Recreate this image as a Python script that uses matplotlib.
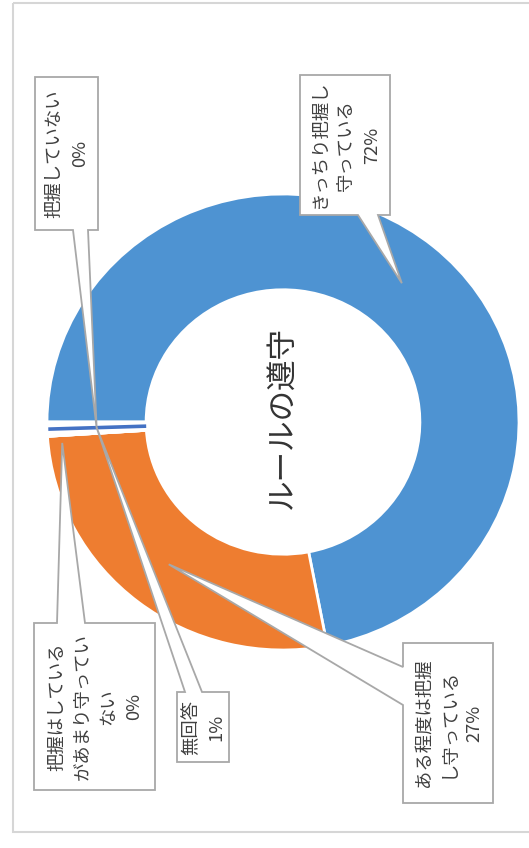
import numpy as np
import matplotlib
matplotlib.use("Agg")
import matplotlib.pyplot as plt
from matplotlib.patches import Polygon, Rectangle

plt.rcParams["font.family"] = ["Noto Sans CJK JP", "DejaVu Sans"]

# ---- data ----
title = "ルールの遵守"
categories = ["きっちり把握し守っている", "ある程度は把握し守っている",
              "把握はしているがあまり守っていない", "把握していない", "無回答"]
values = [72, 27, 0, 0, 1]
label_lines = ["きっちり把握し\n守っている", "ある程度は把握\nし守っている",
               "把握はしている\nがあまり守ってい\nない", "把握していない", "無回答"]
colors = ["#4E93D2", "#EE7D30", "#A5A5A5", "#FFC000", "#FFFFFF"]
no_answer_color = "#4472C4"

# ---- layout (pixels of the 529x848 canvas) ----
W, H = 529, 848
cx, cy, rx, ry = 283, 422, 236, 228
ring_width = 0.42

# callout boxes: (x0, y0, x1, y1), pointer side and base span
boxes = [(300, 75, 390, 215), (403, 643, 493, 803), (34, 623, 155, 790),
         (35, 77, 98, 230), (177, 692, 229, 762)]
pointers = [("bottom", 358, 378), ("left", 667, 705), ("top", 57, 85),
            ("bottom", 73, 88), ("top", 185, 202)]
tip_radius = [0.79, 0.79, 0.94, 0.79, 0.79]
tip_nudge = [0.0, 0.0, 2.0, -1.5, 0.0]

fig = plt.figure(figsize=(W / 100, H / 100), dpi=100)
fig.patch.set_facecolor("white")

ax = fig.add_axes([(cx - rx) / W, 1 - (cy + ry) / H, 2 * rx / W, 2 * ry / H])
wedges, _ = ax.pie(values, colors=colors, startangle=180, counterclock=False,
                   radius=1.0,
                   wedgeprops=dict(width=ring_width, edgecolor="white", linewidth=2))
ax.set_xlim(-1, 1)
ax.set_ylim(-1, 1)
ax.set_aspect("auto")
ax.axis("off")

# thin stroke for the "no answer" slice
w = wedges[4]
th = np.deg2rad((w.theta1 + w.theta2) / 2)
r_in = 1 - ring_width
ax.plot([r_in * np.cos(th), 0.995 * np.cos(th)], [r_in * np.sin(th), 0.995 * np.sin(th)],
        color=no_answer_color, lw=2.6, solid_capstyle="butt", zorder=5)

ax.text(0, 0.02, title, rotation=90, ha="center", va="center",
        fontsize=22, color="#333333")

# overlay in canvas pixels for frame and callouts
ov = fig.add_axes([0, 0, 1, 1])
ov.set_xlim(0, W)
ov.set_ylim(H, 0)
ov.axis("off")
ov.patch.set_alpha(0)

ov.add_patch(Rectangle((13, 3), 600, 829, fill=False, edgecolor="#D6D6D6", lw=1.5))

fig.canvas.draw()


def to_canvas(x, y):
    d = ax.transData.transform((x, y))
    return ov.transData.inverted().transform(d)


for i, wdg in enumerate(wedges):
    mid = np.deg2rad((wdg.theta1 + wdg.theta2) / 2 + tip_nudge[i])
    tx, ty = to_canvas(tip_radius[i] * np.cos(mid), tip_radius[i] * np.sin(mid))
    x0, y0, x1, y1 = boxes[i]
    side, b1, b2 = pointers[i]
    if side == "bottom":
        verts = [(x0, y0), (x1, y0), (x1, y1), (b2, y1), (tx, ty), (b1, y1), (x0, y1)]
    elif side == "top":
        verts = [(x0, y0), (b1, y0), (tx, ty), (b2, y0), (x1, y0), (x1, y1), (x0, y1)]
    else:
        verts = [(x0, y0), (x1, y0), (x1, y1), (x0, y1), (x0, b2), (tx, ty), (x0, b1)]
    ov.add_patch(Polygon(verts, closed=True, facecolor="white",
                         edgecolor="#A8A8A8", lw=1.3, zorder=3))
    txt = f"{label_lines[i]}\n{values[i]}%"
    ov.text((x0 + x1) / 2 + 1, (y0 + y1) / 2, txt, rotation=90, ha="center", va="center",
            multialignment="center", fontsize=13.2, color="#404040",
            linespacing=1.55, zorder=4)

fig.savefig("out.png", dpi=100)
